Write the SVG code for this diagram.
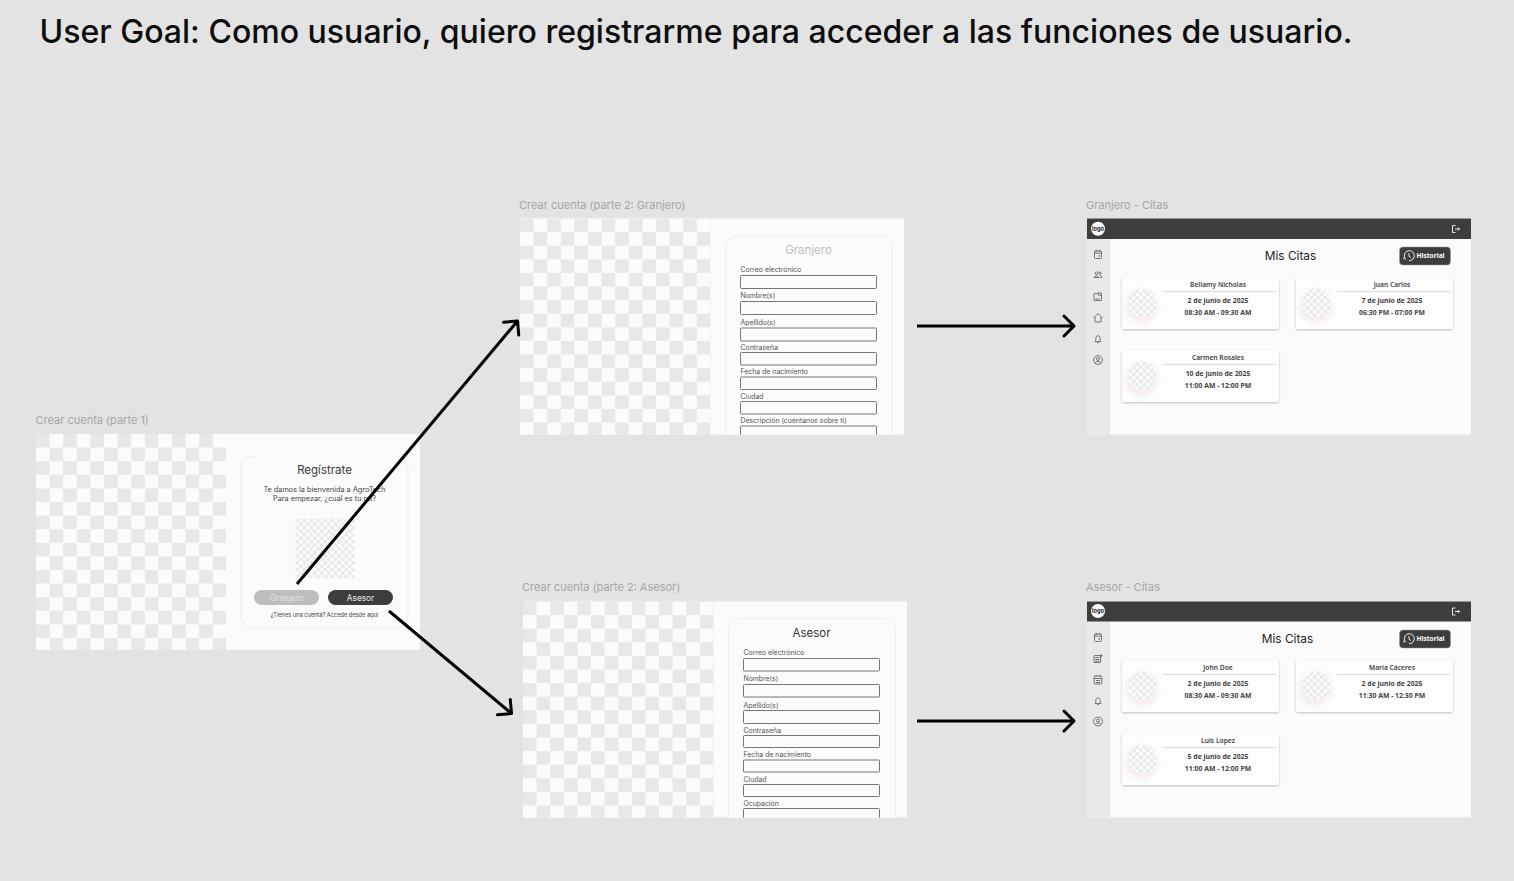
<svg xmlns="http://www.w3.org/2000/svg" width="1514" height="881" viewBox="0 0 1514 881">
<style>
text{font-family:"Inter","Liberation Sans",sans-serif}
.fl{font-size:11px;fill:#a6a6a6}
.bg{fill:#fbfbfb}
.panel{fill:#fbfbfb;stroke:#efefef;stroke-width:1.2}
.title{font-size:11.5px;text-anchor:middle;fill:#3a3a3a}
.lb{font-size:6.9px;fill:#555}
.inp{fill:#fbfbfb;stroke:#666;stroke-width:.9}
.nm{font-size:6.7px;font-weight:600;fill:#444;text-anchor:middle;font-family:"Noto Sans","Liberation Sans",sans-serif}
.dt{font-size:6.85px;font-weight:700;fill:#444;text-anchor:middle;font-family:"Noto Sans","Liberation Sans",sans-serif}
.ic{fill:none;stroke:#666;stroke-width:.9}
.wic{fill:none;stroke:#fff;stroke-width:.9}
.div{stroke:#ddd;stroke-width:1}
.conn{fill:none;stroke:#000;stroke-width:3;marker-end:url(#arr)}
.card{fill:#fdfdfd;filter:url(#sh)}
.logo{font-size:5.6px;font-weight:700;fill:#222;text-anchor:middle}
.hb{font-size:6.6px;font-weight:700;fill:#fff;text-anchor:middle;font-family:"Noto Sans",sans-serif}
</style>
<defs>
<pattern id="chk" width="27.2" height="27.2" patternUnits="userSpaceOnUse">
<rect width="27.2" height="27.2" fill="#fbfbfb"/>
<rect width="13.6" height="13.6" fill="#e8e8e8"/>
<rect x="13.6" y="13.6" width="13.6" height="13.6" fill="#e8e8e8"/>
</pattern>
<pattern id="chks" width="7" height="7" patternUnits="userSpaceOnUse">
<rect width="7" height="7" fill="#fbfbfb"/>
<rect width="3.5" height="3.5" fill="#e8e8e8"/>
<rect x="3.5" y="3.5" width="3.5" height="3.5" fill="#e8e8e8"/>
</pattern>
<filter id="sh" x="-10%" y="-20%" width="120%" height="140%"><feDropShadow dx="0" dy="1" stdDeviation="1.2" flood-color="#000" flood-opacity=".25"/></filter>
<filter id="av" x="-50%" y="-50%" width="200%" height="200%"><feDropShadow dx="-1" dy="3" stdDeviation="3" flood-color="#d9a8a0" flood-opacity=".3"/></filter>
<marker id="arr" markerUnits="userSpaceOnUse" markerWidth="26" markerHeight="26" refX="16" refY="13" orient="auto">
<path d="M6 3 L16 13 L6 23" fill="none" stroke="#000" stroke-width="3" stroke-linecap="round" stroke-linejoin="round"/>
</marker>
<clipPath id="c2"><rect x="520" y="218.500" width="384" height="216"/></clipPath>
<clipPath id="c3"><rect x="523" y="601.500" width="384" height="216"/></clipPath>
<g id="avatar"><circle r="15" fill="#fbfbfb" filter="url(#av)"/><circle r="14.500" fill="url(#chks)"/></g>
<g id="cardbg"><rect width="157" height="52" rx="2" class="card"/><line x1="41" x2="154" y1="14.500" y2="14.500" class="div"/></g>
<g id="cal" class="ic"><rect x="-3.500" y="-3" width="7" height="7.500" rx="1"/><path d="M-3.500 -.8H3.500M-1.800 -4.200V-2M1.800 -4.200V-2"/><rect x=".5" y="1.200" width="1.400" height="1.400" fill="#666" stroke="none"/></g>
<g id="bell" class="ic"><path d="M-3 2.500C-2 1.500 -2.200 .5 -2.200 -.8C-2.200 -2.300 -1.200 -3.200 0 -3.200C1.200 -3.200 2.200 -2.300 2.200 -.8C2.200 .5 2 1.500 3 2.500Z"/><path d="M-.9 3.600H.9"/></g>
<g id="user" class="ic"><circle r="4.400"/><circle cy="-1" r="1.500"/><path d="M-2.800 2.900C-1.500 1 1.500 1 2.800 2.900"/></g>
<g id="logout" class="wic"><path d="M-.5 -3.500H-3.500V3.500H-.5M-1 0H3.500M2 -1.600L3.600 0L2 1.600"/></g>
<g id="hist"><path d="M-3.300 3.200A5 5 0 1 1 0 4.700" class="wic" stroke-width="1"/><path d="M-5 1.500L-5 3.500" class="wic"/><path d="M0 -2.800V.3L1.800 1.500" class="wic"/></g>
</defs>

<rect width="1514" height="881" fill="#e3e3e3"/>
<text id="goal" x="39.500" y="42.500" font-size="32" font-weight="500" fill="#0d0d0d" textLength="1313" lengthAdjust="spacingAndGlyphs">User Goal: Como usuario, quiero registrarme para acceder a las funciones de usuario.</text>

<g id="crear-parte-1">
<text class="fl" x="35.500" y="424">Crear cuenta (parte 1)</text>
<rect class="bg" x="36" y="434" width="384" height="216"/>
<g transform="translate(36 434)"><rect width="190" height="216" fill="url(#chk)"/></g>
<rect class="panel" x="241" y="456" width="167" height="172" rx="13"/>
<text x="324.500" y="473.500" class="title">Regístrate</text>
<text x="324.500" y="492" text-anchor="middle" font-size="7.300" fill="#444">Te damos la bienvenida a AgroTech</text>
<text x="324.500" y="500.500" text-anchor="middle" font-size="7.300" fill="#444">Para empezar, ¿cuál es tu rol?</text>
<g transform="translate(295.500 519)"><rect width="59" height="59" fill="url(#chks)"/></g>
<rect x="254" y="590" width="65" height="15" rx="7.500" fill="#bdbdbd"/>
<text x="286.500" y="600.500" text-anchor="middle" font-size="8.300" fill="#e2e2e2">Granjero</text>
<rect x="328" y="590" width="65" height="15" rx="7.500" fill="#3d3d3d"/>
<text x="360.500" y="600.500" text-anchor="middle" font-size="8.300" fill="#e8e8e8">Asesor</text>
<text x="324.500" y="617" text-anchor="middle" font-size="5.650" fill="#444">¿Tienes una  cuenta? Accede desde aquí</text>
</g>

<g id="crear-granjero">
<text class="fl" x="519" y="209">Crear cuenta (parte 2: Granjero)</text>
<rect class="bg" x="520" y="218.500" width="384" height="216"/>
<g transform="translate(520 218.500)"><rect width="191" height="216" fill="url(#chk)"/></g>
<g clip-path="url(#c2)">
<rect class="panel" x="725.500" y="235.500" width="167" height="230" rx="13"/>
<text x="808.500" y="254" class="title" style="fill:#bfbfbf">Granjero</text>
<text class="lb" x="740.500" y="272">Correo electrónico</text><rect class="inp" x="740.500" y="275.500" width="136" height="13" rx="1"/>
<text class="lb" x="740.500" y="298">Nombre(s)</text><rect class="inp" x="740.500" y="301.500" width="136" height="13" rx="1"/>
<text class="lb" x="740.500" y="324.500">Apellido(s)</text><rect class="inp" x="740.500" y="328" width="136" height="13" rx="1"/>
<text class="lb" x="740.500" y="349.500">Contraseña</text><rect class="inp" x="740.500" y="352.500" width="136" height="12.500" rx="1"/>
<text class="lb" x="740.500" y="374">Fecha de nacimiento</text><rect class="inp" x="740.500" y="377" width="136" height="12.500" rx="1"/>
<text class="lb" x="740.500" y="398.500">Ciudad</text><rect class="inp" x="740.500" y="401.500" width="136" height="12.500" rx="1"/>
<text class="lb" x="740.500" y="422.500">Descripción (cuéntanos sobre ti)</text><rect class="inp" x="740.500" y="426" width="136" height="20" rx="1"/>
</g>
</g>

<g id="crear-asesor">
<text class="fl" x="522" y="591">Crear cuenta (parte 2: Asesor)</text>
<rect class="bg" x="523" y="601.500" width="384" height="216"/>
<g transform="translate(523 601.500)"><rect width="191" height="216" fill="url(#chk)"/></g>
<g clip-path="url(#c3)">
<rect class="panel" x="728.500" y="618.500" width="167" height="230" rx="13"/>
<text x="811.500" y="636.500" class="title" style="fill:#333">Asesor</text>
<text class="lb" x="743.500" y="655">Correo electrónico</text><rect class="inp" x="743.500" y="658.500" width="136" height="12.500" rx="1"/>
<text class="lb" x="743.500" y="681">Nombre(s)</text><rect class="inp" x="743.500" y="684.500" width="136" height="12.500" rx="1"/>
<text class="lb" x="743.500" y="707.500">Apellido(s)</text><rect class="inp" x="743.500" y="710.500" width="136" height="13" rx="1"/>
<text class="lb" x="743.500" y="732.500">Contraseña</text><rect class="inp" x="743.500" y="735.500" width="136" height="12" rx="1"/>
<text class="lb" x="743.500" y="757">Fecha de nacimiento</text><rect class="inp" x="743.500" y="760" width="136" height="12" rx="1"/>
<text class="lb" x="743.500" y="781.500">Ciudad</text><rect class="inp" x="743.500" y="784.500" width="136" height="12" rx="1"/>
<text class="lb" x="743.500" y="806">Ocupación</text><rect class="inp" x="743.500" y="808.500" width="136" height="20" rx="1"/>
</g>
</g>

<g id="granjero-citas">
<text class="fl" x="1086" y="209">Granjero - Citas</text>
<rect class="bg" x="1087" y="218.500" width="384" height="216"/>
<rect x="1087" y="239" width="23" height="195.500" fill="#e9e9e9"/>
<rect x="1087" y="218.500" width="384" height="20.500" fill="#3d3d3d"/>
<circle cx="1098" cy="228.700" r="7" fill="#fff"/>
<text class="logo" x="1098" y="230.700">logo</text>
<use href="#logout" x="1456" y="229"/>
<use href="#cal" x="1098" y="254"/>
<g class="ic" transform="translate(1098 275)"><circle cx="-1.500" cy="-1.800" r="1.300"/><circle cx="2" cy="-1.800" r="1.100"/><path d="M-4 2.500C-3.500 .5 .5 .5 1 2.500H-4M2 .5C3 .5 4 1.300 4 2.500H2"/></g>
<g class="ic" transform="translate(1098 296.500)"><rect x="-4" y="-3" width="7.500" height="7" rx=".6"/><circle cx="1.500" cy="-2.500" r="1.500" fill="#e9e9e9"/><path d="M-2.500 2.500H1.500"/></g>
<path class="ic" d="M1093.500 318L1098 313.500L1102.500 318M1095 317V322H1101V317"/>
<use href="#bell" x="1098" y="339"/>
<use href="#user" x="1098" y="360"/>
<text x="1290.500" y="260" text-anchor="middle" font-size="11.800" fill="#222">Mis Citas</text>
<rect x="1399.500" y="247" width="51" height="18" rx="3.500" fill="#3d3d3d" stroke="#999" stroke-width=".5"/>
<use href="#hist" x="1409" y="256"/>
<text class="hb" x="1430.500" y="258.300">Historial</text>
<use href="#cardbg" x="1122" y="277"/>
<use href="#avatar" x="1142.500" y="303"/>
<text class="nm" x="1218" y="287">Bellamy Nicholas</text>
<text class="dt" x="1218" y="303.300">2 de junio de 2025</text>
<text class="dt" x="1218" y="315">08:30 AM - 09:30 AM</text>
<use href="#cardbg" x="1296" y="277"/>
<use href="#avatar" x="1316.500" y="303"/>
<text class="nm" x="1392" y="287">Juan Carlos</text>
<text class="dt" x="1392" y="303.300">7 de junio de 2025</text>
<text class="dt" x="1392" y="315">06:30 PM - 07:00 PM</text>
<use href="#cardbg" x="1122" y="350"/>
<use href="#avatar" x="1142.500" y="376"/>
<text class="nm" x="1218" y="360">Carmen Rosales</text>
<text class="dt" x="1218" y="376.300">10 de junio de 2025</text>
<text class="dt" x="1218" y="388">11:00 AM - 12:00 PM</text>
</g>

<g id="asesor-citas">
<text class="fl" x="1086" y="591">Asesor - Citas</text>
<rect class="bg" x="1087" y="601.500" width="384" height="216"/>
<rect x="1087" y="621" width="23" height="196.500" fill="#e9e9e9"/>
<rect x="1087" y="601.500" width="384" height="20" fill="#3d3d3d"/>
<circle cx="1098" cy="611" r="7" fill="#fff"/>
<text class="logo" x="1098" y="613">logo</text>
<use href="#logout" x="1456" y="611.500"/>
<use href="#cal" x="1098" y="637"/>
<g class="ic" transform="translate(1098 658.500)"><rect x="-4" y="-3" width="6.500" height="7" rx=".4"/><path d="M-2.800 -1H1.300M-2.800 1H1.300M-2.800 2.700H1.300M3.300 -4.200V-1.400M1.900 -2.800H4.700"/></g>
<g class="ic" transform="translate(1098 679.500)"><rect x="-3.800" y="-3.500" width="7.600" height="8" rx="1"/><path d="M-3.800 -1H3.800M-2 -4.500V-2.800M2 -4.500V-2.800M-2 1H2M-2 3H2"/></g>
<use href="#bell" x="1098" y="701"/>
<use href="#user" x="1098" y="721.500"/>
<text x="1287.500" y="643" text-anchor="middle" font-size="11.800" fill="#222">Mis Citas</text>
<rect x="1399.500" y="630" width="51" height="18" rx="3.500" fill="#3d3d3d" stroke="#999" stroke-width=".5"/>
<use href="#hist" x="1409" y="639"/>
<text class="hb" x="1430.500" y="641.300">Historial</text>
<use href="#cardbg" x="1122" y="660"/>
<use href="#avatar" x="1142.500" y="686"/>
<text class="nm" x="1218" y="670">John Doe</text>
<text class="dt" x="1218" y="686.300">2 de junio de 2025</text>
<text class="dt" x="1218" y="698">08:30 AM - 09:30 AM</text>
<use href="#cardbg" x="1296" y="660"/>
<use href="#avatar" x="1316.500" y="686"/>
<text class="nm" x="1392" y="670">María Cáceres</text>
<text class="dt" x="1392" y="686.300">2 de junio de 2025</text>
<text class="dt" x="1392" y="698">11:30 AM - 12:30 PM</text>
<use href="#cardbg" x="1122" y="733"/>
<use href="#avatar" x="1142.500" y="759"/>
<text class="nm" x="1218" y="743">Luis Lopez</text>
<text class="dt" x="1218" y="759.300">5 de junio de 2025</text>
<text class="dt" x="1218" y="771">11:00 AM - 12:00 PM</text>
</g>

<g id="connectors">
<path class="conn" d="M297 584L517.500 321"/>
<path class="conn" d="M389 611L511.500 713.500"/>
<path class="conn" d="M917 326H1074"/>
<path class="conn" d="M917 721H1074"/>
</g>
</svg>
